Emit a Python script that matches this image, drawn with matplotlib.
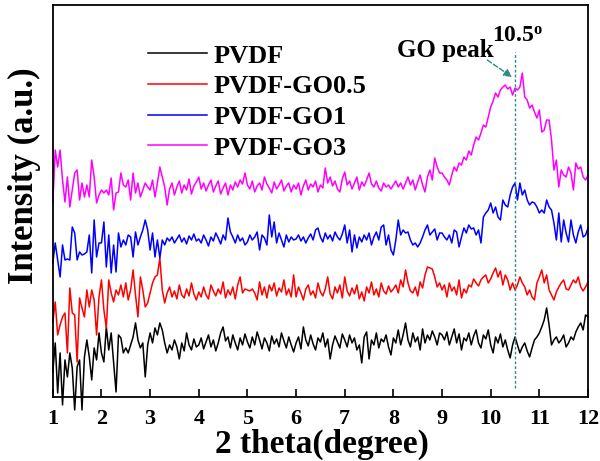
import numpy as np
import matplotlib
matplotlib.use("Agg")
import matplotlib.pyplot as plt

plt.rcParams['font.family'] = ['Liberation Serif', 'DejaVu Serif']
plt.rcParams['font.weight'] = 'bold'
plt.rcParams['mathtext.fontset'] = 'custom'
plt.rcParams['mathtext.rm'] = 'Liberation Serif:bold'
plt.rcParams['mathtext.default'] = 'rm'

# 2 theta grid, 0.05 degree step from 1 to 12
two_theta = np.round(np.linspace(1, 12, 221), 2)

# stacked XRD intensities (a.u.), one row of 20 points per degree
pvdf = [
    23, 52, 2, 42, -10, 35, 18, 42, 27, -15, 28, 35, -15, 38, 55, 38, 15, 47, 35, 62,
    42, 33, 68, 45, 62, 33, 3, 60, 57, 42, 47, 42, 50, 58, 72, 55, 47, 52, 18, 50,
    62, 52, 67, 60, 72, 65, 52, 42, 50, 45, 55, 48, 36, 52, 44, 62, 50, 45, 56, 48,
    50, 57, 46, 53, 60, 48, 55, 44, 52, 62, 68, 54, 58, 47, 60, 52, 45, 57, 50, 61,
    53, 47, 58, 50, 63, 55, 46, 57, 52, 44, 59, 51, 56, 48, 62, 54, 47, 58, 50, 43,
    52, 58, 46, 68, 55, 49, 60, 51, 45, 57, 53, 62, 48, 56, 36, 50, 59, 53, 47, 61,
    55, 48, 60, 52, 57, 45, 50, 32, 58, 63, 36, 55, 50, 62, 47, 56, 53, 60, 48, 40,
    57, 52, 65, 50, 60, 72, 55, 48, 62, 53, 58, 45, 66, 52, 60, 55, 64, 58, 50, 62,
    60, 55, 63, 50, 58, 66, 52, 61, 45, 57, 54, 62, 50, 59, 65, 52, 47, 60, 56, 65,
    50, 42, 58, 52, 61, 48, 55, 45, 37, 50, 58, 50, 42, 48, 52, 44, 38, 47, 55, 58,
    62, 68, 75, 87, 70, 50, 55, 58, 52, 55, 60, 48, 52, 58, 55, 63, 68, 72, 65, 80,
    78]
pvdf_go05 = [
    73, 93, 60, 70, 78, 82, 42, 107, 82, 80, 33, 97, 87, 78, 105, 88, 105, 95, 60, 98,
    115, 85, 67, 115, 102, 93, 105, 100, 110, 98, 112, 95, 105, 125, 100, 78, 118, 105, 88, 92,
    102, 112, 118, 120, 137, 105, 92, 102, 108, 98, 104, 96, 110, 100, 97, 106, 99, 112, 101, 95,
    103, 98, 108, 100, 96, 110, 104, 99, 106, 101, 113, 97, 105, 100, 108, 96, 110, 118, 102, 106,
    105, 104, 106, 102, 95, 113, 100, 108, 97, 110, 104, 112, 99, 107, 103, 115, 100, 106, 98, 120,
    98, 108, 102, 95, 106, 110, 100, 104, 97, 112, 103, 99, 106, 118, 101, 96, 108, 102, 110, 97,
    118, 104, 99, 107, 101, 110, 96, 103, 94, 108, 102, 113, 100, 106, 98, 112, 104, 101, 109, 103,
    106, 110, 102, 115, 108, 125, 112, 104, 102, 108, 99, 113, 107, 120, 128, 127, 126, 118, 108, 112,
    105, 110, 98, 112, 104, 108, 100, 115, 97, 106, 102, 110, 108, 116, 112, 109, 115, 118, 120, 112,
    116, 122, 127, 118, 124, 110, 120, 115, 105, 112, 105, 110, 118, 112, 108, 100, 105, 98, 95, 112,
    118, 125, 112, 120, 105, 100, 95, 103, 108, 112, 115, 106, 105, 110, 115, 112, 118, 108, 104, 108,
    113]
pvdf_go1 = [
    132, 152, 135, 118, 150, 135, 136, 135, 168, 162, 135, 143, 140, 141, 143, 160, 122, 175, 138, 152,
    152, 173, 128, 160, 122, 150, 123, 162, 148, 155, 150, 160, 158, 138, 163, 150, 158, 165, 175, 165,
    145, 162, 138, 155, 137, 155, 150, 157, 154, 158, 152, 156, 160, 153, 157, 151, 159, 155, 161, 154,
    156, 152, 160, 155, 149, 158, 154, 162, 157, 151, 160, 155, 177, 163, 158, 152, 160, 154, 157, 150,
    153, 160, 155, 158, 163, 145, 160, 157, 150, 180, 158, 173, 152, 162, 155, 148, 160, 153, 158, 155,
    156, 160, 154, 158, 152, 157, 161, 155, 165, 167, 158, 153, 162, 156, 160, 154, 163, 158, 155, 161,
    170, 152, 165, 143, 160, 147, 158, 153, 160, 155, 162, 150, 158, 163, 155, 168, 170, 150, 160, 145,
    140, 155, 175, 160, 165, 162, 163, 155, 150, 152, 148, 152, 158, 165, 170, 160, 163, 166, 155, 162,
    162, 158, 155, 160, 152, 165, 163, 148, 158, 167, 162, 170, 166, 167, 160, 165, 152, 178, 182, 185,
    192, 182, 188, 178, 175, 195, 190, 188, 200, 208, 212, 195, 212, 200, 205, 195, 190, 193, 192, 188,
    182, 185, 182, 195, 188, 185, 172, 155, 182, 153, 175, 162, 153, 175, 160, 152, 163, 170, 158, 160,
    167]
pvdf_go3 = [
    192, 245, 228, 245, 215, 193, 218, 188, 205, 222, 225, 195, 212, 198, 210, 198, 235, 218, 192, 200,
    205, 202, 205, 200, 217, 185, 202, 203, 222, 210, 208, 215, 195, 222, 202, 212, 198, 205, 212, 208,
    205, 215, 198, 212, 228, 218, 208, 190, 206, 212, 200, 208, 214, 202, 210, 205, 216, 201, 209, 213,
    218, 206, 212, 204, 210, 215, 203, 209, 214, 201, 207, 212, 200, 210, 205, 213, 208, 215, 211, 222,
    210, 206, 214, 203, 209, 212, 205, 218, 211, 207, 202, 213, 206, 210, 215, 204, 209, 212, 203, 210,
    206, 212, 200, 209, 215, 205, 211, 208, 214, 203, 210, 207, 227, 212, 218, 209, 214, 206, 203, 216,
    223, 210, 214, 206, 212, 218, 205, 213, 209, 215, 222, 211, 208, 214, 207, 204, 212, 208, 210, 206,
    210, 214, 208, 212, 206, 212, 218, 210, 215, 205, 213, 220, 210, 203, 218, 225, 215, 237, 228, 222,
    222, 218, 215, 210, 220, 228, 224, 232, 230, 238, 235, 244, 240, 250, 258, 255, 262, 270, 268, 278,
    288, 294, 302, 298, 305, 308, 310, 306, 308, 300, 307, 305, 308, 322, 298, 295, 287, 290, 283, 277,
    285, 263, 265, 275, 275, 255, 225, 235, 208, 225, 220, 218, 228, 222, 205, 232, 226, 228, 218, 215,
    220]

labels = ['PVDF', 'PVDF-GO0.5', 'PVDF-GO1', 'PVDF-GO3']
colors = ['black', 'red', 'blue', 'magenta']
go_peak = 10.5
teal = '#2e8b8b'

fig = plt.figure(figsize=(6, 4.61), dpi=100)
ax = fig.add_axes([0.088, 0.139, 0.892, 0.85])

for y, lab, c in zip([pvdf, pvdf_go05, pvdf_go1, pvdf_go3], labels, colors):
    ax.plot(two_theta, y, color=c, lw=1.1, label=lab, clip_on=False)

# GO peak marker
ax.plot([go_peak, go_peak], [7, 343], color=teal, lw=1, ls=(0, (2, 1.5)))
ax.annotate('', xy=(10.44, 318), xytext=(9.93, 335),
            arrowprops=dict(arrowstyle='-|>', color=teal, lw=1, ls='--',
                            mutation_scale=12, shrinkA=0, shrinkB=0))
ax.text(9.07, 338, 'GO peak', fontsize=18, ha='center', va='baseline')
ax.text(10.55, 353, '10.5$^{o}$', fontsize=17, ha='center', va='baseline')

ax.set_xlim(1, 12)
ax.set_ylim(-2, 390)
ax.set_xticks(range(1, 13))
ax.set_yticks([])
ax.tick_params(axis='x', direction='in', length=6, width=1.2, labelsize=16, pad=9)
for s in ax.spines.values():
    s.set_linewidth(1.3)

ax.set_xlabel('2 theta(degree)', fontsize=24, fontweight='bold')
ax.xaxis.set_label_coords(0.503, -0.08)
ax.set_ylabel('Intensity (a.u.)', fontsize=25, fontweight='bold')
ax.yaxis.label.set_va('center')
ax.yaxis.set_label_coords(-0.052, 0.565)

ax.legend(loc='upper left', bbox_to_anchor=(0.178, 0.90), frameon=False,
          fontsize=19, handlelength=2.25, handletextpad=0.23, labelspacing=0.27,
          borderpad=0, borderaxespad=0)

fig.savefig('out.png', dpi=100)
